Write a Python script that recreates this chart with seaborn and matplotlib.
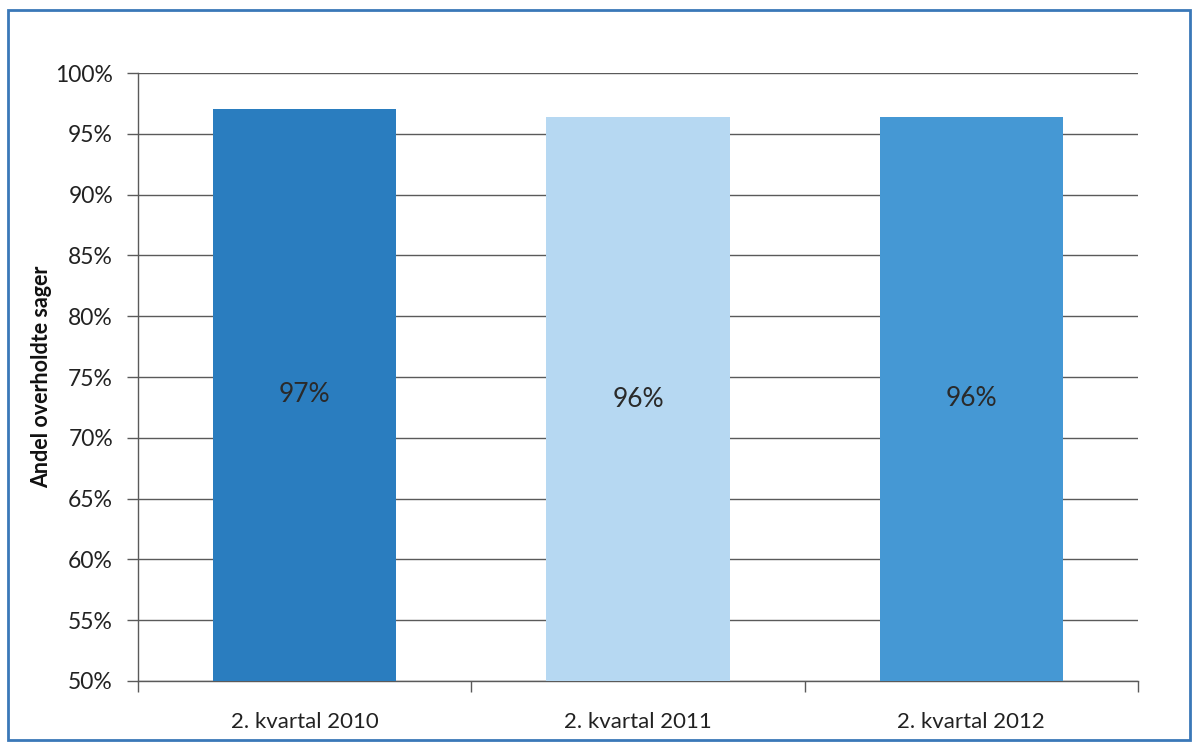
import matplotlib
matplotlib.use("Agg")
import matplotlib.pyplot as plt
import seaborn as sns
import pandas as pd
from matplotlib.patches import Rectangle
from matplotlib.ticker import MultipleLocator, FuncFormatter

categories = ["2. kvartal 2010", "2. kvartal 2011", "2. kvartal 2012"]
values = [97.05, 96.35, 96.4]
labels = ["97%", "96%", "96%"]
colors = ["#2a7dbf", "#b6d8f2", "#4598d4"]
ylabel = "Andel overholdte sager"

sns.set_theme(style="white")
plt.rcParams["font.family"] = ["Lato", "DejaVu Sans"]

df = pd.DataFrame({"cat": categories, "val": values})

fig = plt.figure(figsize=(11.99, 7.49), dpi=100)
ax = fig.add_axes([0.1151, 0.0908, 0.834, 0.8117])

sns.barplot(data=df, x="cat", y="val", hue="cat", palette=colors, legend=False,
            width=0.55, saturation=1, ax=ax, edgecolor="none", zorder=3)

ax.set_ylim(50, 100)
ax.set_xlim(-0.5, len(categories) - 0.5)
ax.yaxis.set_major_locator(MultipleLocator(5))
ax.yaxis.set_major_formatter(FuncFormatter(lambda v, p: f"{v:.0f}%"))
ax.grid(axis="y", color="#5a5a5a", linewidth=1.0, zorder=0)
ax.set_axisbelow(True)

for s in ["top", "right"]:
    ax.spines[s].set_visible(False)
for s in ["left", "bottom"]:
    ax.spines[s].set_color("#5a5a5a")
    ax.spines[s].set_linewidth(1.0)

ax.tick_params(axis="y", left=True, length=8, width=1, color="#5a5a5a",
               labelsize=16.5, pad=10, labelcolor="#222222")
ax.tick_params(axis="x", bottom=False, labelsize=16, pad=16, labelcolor="#222222")

ax.set_xticks(range(len(categories)))
ax.set_xticklabels(categories)
ax.set_xticks([i - 0.5 for i in range(len(categories) + 1)], minor=True)
ax.tick_params(axis="x", which="minor", bottom=True, length=8, width=1, color="#5a5a5a")

ax.set_xlabel("")
ax.set_ylabel(ylabel, fontsize=15.5, fontweight="bold", color="#111111", labelpad=2)

lo = ax.get_ylim()[0]
for i, (v, t) in enumerate(zip(values, labels)):
    ax.text(i, (lo + v) / 2, t, ha="center", va="center", fontsize=19,
            color="#2a2a2a", zorder=5)

fig.patches.append(Rectangle((0.0067, 0.012), 0.986, 0.975, transform=fig.transFigure,
                             fill=False, edgecolor="#3a78b8", linewidth=2))

fig.savefig("out.png", dpi=100, facecolor="white")
